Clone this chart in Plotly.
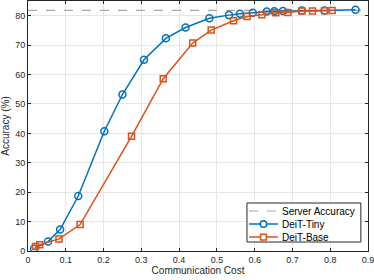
import plotly.graph_objects as go

server_acc = 81.8
x_range = [0, 0.9]

tiny_cost = [0.016, 0.053, 0.085, 0.133, 0.202, 0.250, 0.307, 0.365, 0.417, 0.480,
             0.532, 0.561, 0.595, 0.632, 0.652, 0.675, 0.725, 0.785, 0.867]
tiny_acc = [0.8, 3.2, 7.3, 18.7, 40.7, 53.2, 65.0, 72.3, 76.0, 79.1,
            80.2, 80.7, 81.0, 81.4, 81.5, 81.6, 81.8, 81.8, 82.0]

base_cost = [0.020, 0.031, 0.082, 0.138, 0.274, 0.358, 0.436, 0.485, 0.544, 0.580,
             0.619, 0.656, 0.688, 0.725, 0.753, 0.785, 0.805]
base_acc = [1.5, 2.1, 4.1, 9.0, 39.0, 58.6, 70.7, 75.1, 78.3, 79.7,
            80.3, 81.0, 81.1, 81.6, 81.6, 81.7, 81.8]

x_ticks = [0, 0.1, 0.2, 0.3, 0.4, 0.5, 0.6, 0.7, 0.8, 0.9]
x_tick_labels = ["0", "0.1", "0.2", "0.3", "0.4", "0.5", "0.6", "0.7", "0.8", "0.9"]
y_ticks = [0, 10, 20, 30, 40, 50, 60, 70, 80]
legend_names = ["Server Accuracy", "DeiT-Tiny", "DeiT-Base"]

blue = "#0072BD"
orange = "#D95319"
grey = "#a8a8a8"
font_family = "Liberation Sans, Arial, sans-serif"

fig = go.Figure()
fig.add_trace(go.Scatter(
    x=x_range, y=[server_acc, server_acc], mode="lines", name=legend_names[0],
    line=dict(color=grey, width=1.2, dash="dash")))
fig.add_trace(go.Scatter(
    x=tiny_cost, y=tiny_acc, mode="lines+markers", name=legend_names[1],
    line=dict(color=blue, width=1.5),
    marker=dict(symbol="circle-open", size=7, color=blue, line=dict(width=1.5, color=blue))))
fig.add_trace(go.Scatter(
    x=base_cost, y=base_acc, mode="lines+markers", name=legend_names[2],
    line=dict(color=orange, width=1.5),
    marker=dict(symbol="square-open", size=6, color=orange, line=dict(width=1.5, color=orange))))

axis_common = dict(
    showgrid=True, gridcolor="#e6e6e6", gridwidth=1,
    showline=True, linecolor="#262626", linewidth=1, mirror="ticks",
    ticks="inside", ticklen=3, tickcolor="#262626",
    zeroline=False, ticklabeloverflow="allow",
    tickfont=dict(family=font_family, size=9, color="#262626"),
)

fig.update_xaxes(range=x_range, tickvals=x_ticks, ticktext=x_tick_labels,
                 title=dict(text="Communication Cost", standoff=3,
                            font=dict(family=font_family, size=10, color="#262626")),
                 **axis_common)
fig.update_yaxes(range=[0, 85], tickvals=y_ticks,
                 title=dict(text="Accuracy (%)", standoff=3,
                            font=dict(family=font_family, size=10, color="#262626")),
                 **axis_common)

# Compact MATLAB-style legend box (decoration, in paper coordinates)
shapes = [dict(type="rect", xref="paper", yref="paper", x0=0.644, x1=0.979, y0=0.036, y1=0.192,
               fillcolor="white", line=dict(color="#262626", width=1), layer="above")]
annotations = []
rows = [0.160, 0.108, 0.056]
styles = [(grey, "dash", None), (blue, "solid", "circle"), (orange, "solid", "square")]
for name, ry, (col, dash, sym) in zip(legend_names, rows, styles):
    shapes.append(dict(type="line", xref="paper", yref="paper", x0=0.650, x1=0.735, y0=ry, y1=ry,
                       line=dict(color=col, width=1.5 if dash == "solid" else 1.2, dash=dash),
                       layer="above"))
    if sym == "circle":
        shapes.append(dict(type="circle", xref="paper", yref="paper",
                           x0=0.6925 - 0.0095, x1=0.6925 + 0.0095, y0=ry - 0.013, y1=ry + 0.013,
                           fillcolor="white", line=dict(color=col, width=1.5), layer="above"))
    elif sym == "square":
        shapes.append(dict(type="rect", xref="paper", yref="paper",
                           x0=0.6925 - 0.0085, x1=0.6925 + 0.0085, y0=ry - 0.0115, y1=ry + 0.0115,
                           fillcolor="white", line=dict(color=col, width=1.5), layer="above"))
    annotations.append(dict(text=name, xref="paper", yref="paper", x=0.741, y=ry,
                            xanchor="left", yanchor="middle", showarrow=False,
                            font=dict(family=font_family, size=10, color="black")))

fig.update_layout(
    width=374, height=280,
    margin=dict(l=28, r=6, t=1, b=29, pad=0),
    paper_bgcolor="white", plot_bgcolor="white",
    showlegend=False,
    shapes=shapes, annotations=annotations,
)

fig.write_html("out.html", config={"displayModeBar": False},
               post_script="document.body.style.margin='0';document.body.style.padding='0';")
